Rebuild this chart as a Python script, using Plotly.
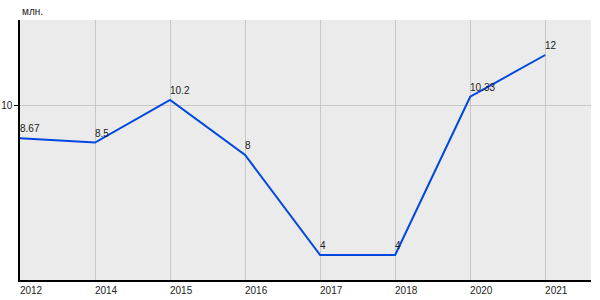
import plotly.graph_objects as go

years = ["2012", "2014", "2015", "2016", "2017", "2018", "2020", "2021"]
values = [8.67, 8.5, 10.2, 8, 4, 4, 10.33, 12]
labels = ["8.67", "8.5", "10.2", "8", "4", "4", "10.33", "12"]
y_ticks = [10]

xs = list(range(len(years)))

fig = go.Figure()
fig.add_trace(go.Scatter(
    x=xs, y=values, mode="lines",
    line=dict(color="#0047e0", width=2),
    hoverinfo="skip",
))

annotations = [
    dict(x=x, y=v, text=t, xref="x", yref="y", showarrow=False,
         xanchor="left", yanchor="bottom", xshift=-2, yshift=2,
         font=dict(size=10, color="#222222"))
    for x, v, t in zip(xs, values, labels)
]
annotations.append(dict(
    text="млн.", xref="paper", yref="paper", x=0, y=1, yshift=1,
    xanchor="left", yanchor="bottom", showarrow=False,
    font=dict(size=10, color="#222222"),
))

fig.update_layout(
    width=600, height=300,
    margin=dict(l=20, r=9, t=20, b=20),
    paper_bgcolor="white", plot_bgcolor="#ebebeb",
    showlegend=False,
    font=dict(family="Liberation Sans, Arial", size=10, color="#222222"),
    xaxis=dict(
        range=[0, 7.61], tickmode="array", tickvals=xs, ticktext=years,
        showgrid=True, gridcolor="#c8c8c8", gridwidth=1,
        showline=True, linecolor="black", linewidth=1.5,
        ticks="", ticklabelshift=11, zeroline=False, automargin=False,
        tickfont=dict(size=10),
    ),
    yaxis=dict(
        range=[3, 13.4], tickmode="array", tickvals=y_ticks,
        showgrid=True, gridcolor="#c8c8c8", gridwidth=1,
        showline=True, linecolor="black", linewidth=1.5,
        ticks="outside", ticklen=4, tickcolor="black", zeroline=False,
        automargin=False, tickfont=dict(size=10),
    ),
    annotations=annotations,
)

fig.write_html("out.html")
